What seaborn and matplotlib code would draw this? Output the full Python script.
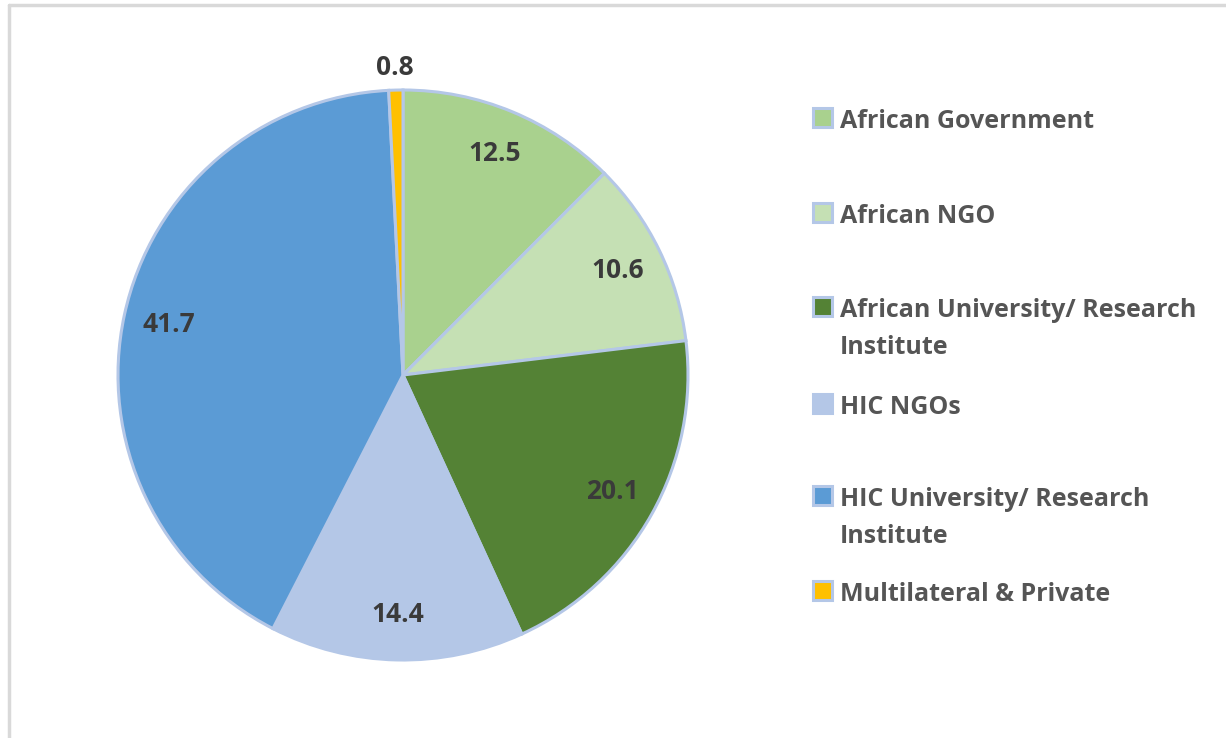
import numpy as np
import matplotlib
matplotlib.use("Agg")
import matplotlib.pyplot as plt
import seaborn as sns
from matplotlib.patches import Rectangle
from matplotlib.lines import Line2D

# data
categories = ["African Government", "African NGO", "African University/ Research\nInstitute",
              "HIC NGOs", "HIC University/ Research\nInstitute", "Multilateral & Private"]
values = [12.5, 10.6, 20.1, 14.4, 41.7, 0.8]
value_labels = ["12.5", "10.6", "20.1", "14.4", "41.7", "0.8"]
colors = ["#a9d18e", "#c5e0b4", "#548235", "#b4c7e7", "#5b9bd5", "#ffc000"]

sns.set_theme(style="white")
plt.rcParams["font.family"] = ["Open Sans", "DejaVu Sans"]
num_col = "#3a3a3a"
leg_col = "#555555"
edge_col = "#b4c7e7"

W, H = 1226, 738
fig = plt.figure(figsize=(W / 100, H / 100), dpi=100)
fig.patch.set_facecolor("white")

# pie axes: centre (403, 375) px, radius 285 px
cx, cy, r = 403, 375, 285
ax = fig.add_axes([(cx - r) / W, (H - cy - r) / H, 2 * r / W, 2 * r / H])
wedges, _ = ax.pie(values, colors=colors, startangle=90, counterclock=False,
                   wedgeprops=dict(edgecolor=edge_col, linewidth=2.2))
ax.set_xlim(-1, 1)
ax.set_ylim(-1, 1)
ax.set_aspect("equal")
ax.axis("off")

# value labels
for w, lab, v in zip(wedges, value_labels, values):
    ang = np.deg2rad((w.theta1 + w.theta2) / 2)
    d = 1.08 if v < 2 else 0.84
    ax.text(d * np.cos(ang), d * np.sin(ang), lab, ha="center", va="center",
            fontsize=19, fontweight="bold", color=num_col, clip_on=False)

# legend drawn by hand to mimic the Excel layout
leg_base = [128, 223, 317, 414, 506, 601]
line_gap = 37
for cat, col, y in zip(categories, colors, leg_base):
    fig.patches.append(Rectangle((813 / W, (H - y + 1) / H), 19 / W, 19 / H,
                                 transform=fig.transFigure, facecolor=col,
                                 edgecolor=edge_col, linewidth=2.2))
    for i, line in enumerate(cat.split("\n")):
        fig.text(840 / W, (H - y - i * line_gap) / H, line, ha="left", va="baseline",
                 fontsize=18, fontweight="bold", color=leg_col,
                 transform=fig.transFigure)

# light grey frame at top and left
fig.add_artist(Line2D([9 / W, 1], [1 - 5 / H, 1 - 5 / H], color="#d9d9d9", lw=2.5,
                      transform=fig.transFigure))
fig.add_artist(Line2D([9 / W, 9 / W], [0, 1 - 5 / H], color="#d9d9d9", lw=2.5,
                      transform=fig.transFigure))

fig.savefig("out.png", dpi=100)
